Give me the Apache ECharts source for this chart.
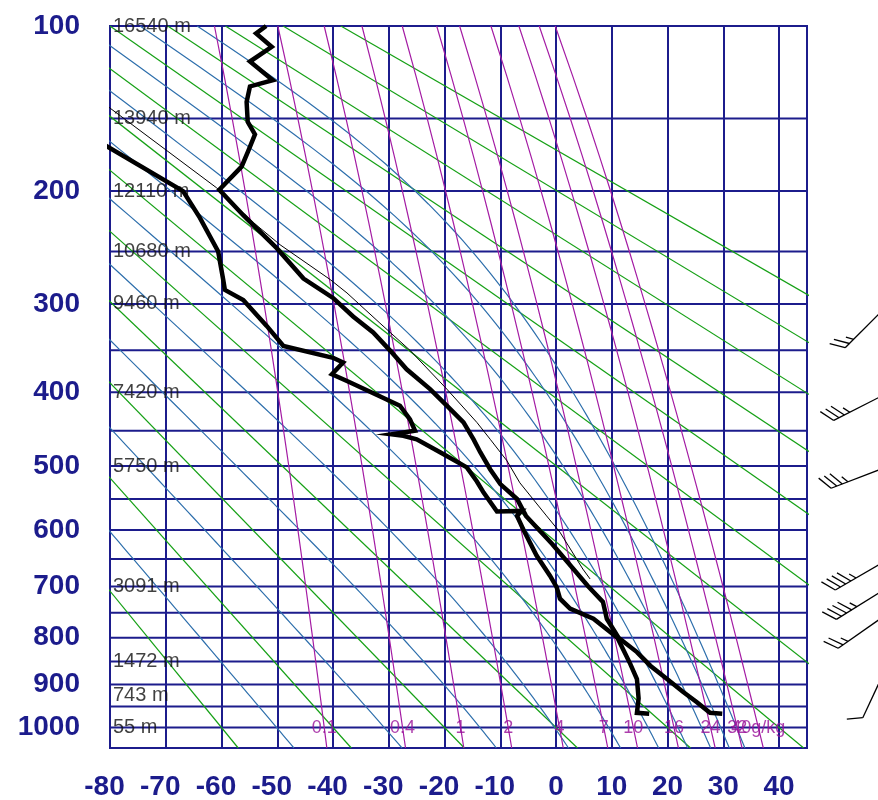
<!DOCTYPE html>
<html>
<head>
<meta charset="utf-8">
<title>Sounding</title>
<script src="https://cdn.jsdelivr.net/npm/echarts@6/dist/echarts.min.js"></script>
<style>
  html, body { margin: 0; padding: 0; background: #ffffff; }
  #chart { width: 878px; height: 800px; }
</style>
</head>
<body>
<div id="chart"></div>
<script>
// Stuve diagram: x = temperature (degC), y = p^kappa (pressure, hPa)
const KAPPA = 0.286;
const P_TOP = 100, P_BOTTOM = 1050;
const T_MIN = -80, T_MAX = 45;

// Observed temperature profile (hPa, degC), surface upward
const tempPres = [967, 965, 940, 917, 888, 859, 830, 800, 762, 729, 699, 624, 577, 550, 527, 505, 480, 462, 439, 417, 396, 372, 350, 330, 313, 294, 275, 247, 219, 199, 182, 171, 160, 152, 140, 131, 127.5, 117.5, 110, 103.5, 100];
const tempVals = [29.8, 27.6, 25.2, 22.8, 19.9, 16.9, 14.5, 11.2, 9.1, 8.4, 5.7, -0.7, -5.4, -7.0, -10.0, -11.8, -13.6, -14.8, -16.6, -19.6, -22.6, -26.8, -29.8, -32.8, -36.4, -40.0, -45.3, -50.1, -56.1, -60.4, -56.4, -55.2, -54.0, -55.3, -55.5, -54.9, -50.8, -54.9, -51.0, -53.8, -52.0];

// Observed dew point profile (hPa, degC)
const dewPres = [967, 965, 932, 888, 855, 800, 762, 742, 723, 701, 680, 644, 599, 577, 569, 570, 540, 523, 502, 480, 462, 457, 455, 450, 435, 417, 403, 386, 378, 364, 358.5, 345, 323, 296, 286, 276, 250, 221, 200, 150];
const dewVals = [16.7, 14.5, 14.8, 14.5, 13.3, 11.0, 6.7, 2.5, 0.7, 0.1, -1.1, -3.5, -5.9, -7.0, -6.2, -10.6, -13.0, -14.2, -16.0, -20.8, -25.0, -27.4, -29.5, -25.3, -26.2, -28.0, -32.2, -37.5, -40.2, -38.2, -40.0, -48.9, -51.9, -56.1, -59.4, -59.7, -60.6, -63.9, -66.9, -89.0];

// Lifted parcel path (hPa, degC)
const parcelPres = [686, 668, 604, 577, 525, 492.5, 462, 439, 396, 350, 320, 289, 276, 244, 225, 197.5, 143.6, 130];
const parcelVals = [6.1, 4.8, 0.7, -1.7, -6.5, -8.8, -11.8, -14.2, -19.6, -26.2, -31.6, -37.5, -40.5, -49.5, -54.3, -60.9, -80.0, -85.0];

// Geopotential heights of standard levels (hPa, m)
const heightPres = [100, 150, 200, 250, 300, 400, 500, 700, 850, 925, 1000];
const heightVals = [16540, 13940, 12110, 10680, 9460, 7420, 5750, 3091, 1472, 743, 55];

// Wind barbs (hPa, direction deg, speed kt)
const windPres = [300, 400, 500, 650, 700, 750, 850, 900, 925, 967];
const windDir  = [225, 243, 249, 240, 238, 235, 205, 160, 150, 140];
const windSpd  = [25, 35, 35, 45, 45, 25, 10, 10, 5, 5];

// Diagram background
const isobars = [100, 150, 200, 250, 300, 350, 400, 450, 500, 550, 600, 650, 700, 750, 800, 850, 900, 950, 1000, 1050];
const pressureLabels = [100, 200, 300, 400, 500, 600, 700, 800, 900, 1000];
const dryAdiabatsC = [-60, -40, -20, 0, 20, 40, 60, 80, 100, 120, 140, 160, 180];
const moistThetaEC = [-50, -30, -10, 10, 30, 50, 70, 90, 110, 130];
const mixingRatios = [0.1, 0.4, 1, 2, 4, 7, 10, 16, 24, 32, 40];

const NAVY = '#1c1c8c';
const GREEN = '#15a015';
const BLUE = '#2e6fac';
const PURPLE = '#a41ca4';
const FONT = '"Liberation Sans", Arial, sans-serif';

const s = p => Math.pow(p, KAPPA);

function satVap(tc) { return 6.112 * Math.exp(17.67 * tc / (tc + 243.5)); }
function thetaESat(p, tc) {
  const tk = tc + 273.15, e = satVap(tc);
  if (e > 0.5 * p) return Infinity;
  const r = 622 * e / (p - e);
  return tk * Math.pow(1000 / p, 0.2854 * (1 - 0.00028 * r)) *
         Math.exp((3.376 / tk - 0.00254) * r * (1 + 0.00081 * r));
}
function moistT(p, thetaEK) {
  let lo = -130, hi = 60;
  for (let i = 0; i < 50; i++) {
    const mid = (lo + hi) / 2;
    if (thetaESat(p, mid) > thetaEK) hi = mid; else lo = mid;
  }
  return (lo + hi) / 2;
}
function mixT(p, w) {
  const e = w * p / (622 + w);
  const l = Math.log(e / 6.112);
  return 243.5 * l / (17.67 - l);
}

const series = [];

// isobars
isobars.forEach(p => series.push({
  type: 'line', silent: true, symbol: 'none', z: 1, animation: false,
  data: [[T_MIN, s(p)], [T_MAX, s(p)]],
  lineStyle: { color: NAVY, width: 2 }
}));

// dry adiabats
dryAdiabatsC.forEach(th => {
  const thK = th + 273.15;
  series.push({
    type: 'line', silent: true, symbol: 'none', z: 2, clip: true,
    data: [P_TOP, P_BOTTOM].map(p => [thK * Math.pow(p / 1000, KAPPA) - 273.15, s(p)]),
    lineStyle: { color: GREEN, width: 1.2 }
  });
});

// saturated (pseudo) adiabats
moistThetaEC.forEach(te => {
  const teK = te + 273.15, pts = [];
  for (let p = P_TOP; p <= P_BOTTOM; p += 10) pts.push([moistT(p, teK), s(p)]);
  series.push({
    type: 'line', silent: true, symbol: 'none', z: 2, clip: true,
    data: pts, lineStyle: { color: BLUE, width: 1.2 }
  });
});

// saturation mixing ratio lines
mixingRatios.forEach(w => {
  const pts = [];
  for (let p = P_TOP; p <= P_BOTTOM; p += 25) pts.push([mixT(p, w), s(p)]);
  series.push({
    type: 'line', silent: true, symbol: 'none', z: 3, clip: true,
    data: pts, lineStyle: { color: PURPLE, width: 1.2 }
  });
});

// mixing ratio labels along 1000 hPa
series.push({
  type: 'scatter', silent: true, symbolSize: 0, z: 6,
  data: mixingRatios.map((w, i) => ({
    value: [mixT(1000, w), s(1000)],
    label: { formatter: i === mixingRatios.length - 1 ? w + 'g/kg' : String(w) }
  })),
  label: { show: true, position: 'inside', color: '#990f99', fontSize: 18, fontFamily: FONT }
});

// standard level heights
series.push({
  type: 'scatter', silent: true, symbolSize: 0, z: 6,
  data: heightPres.map((p, i) => ({ value: [T_MIN, s(p)], label: { formatter: heightVals[i] + ' m' } })),
  label: { show: true, position: 'right', distance: 3, color: '#111111', fontSize: 20, fontFamily: FONT }
});

// parcel path
series.push({
  type: 'line', silent: true, symbol: 'none', z: 7, clip: true,
  data: parcelPres.map((p, i) => [parcelVals[i], s(p)]),
  lineStyle: { color: '#000', width: 1 }
});

// dew point and temperature
series.push({
  type: 'line', silent: true, symbol: 'none', z: 8, clip: true,
  data: dewPres.map((p, i) => [dewVals[i], s(p)]),
  lineStyle: { color: '#000', width: 4.5, join: 'miter' }
});
series.push({
  type: 'line', silent: true, symbol: 'none', z: 9, clip: true,
  data: tempPres.map((p, i) => [tempVals[i], s(p)]),
  lineStyle: { color: '#000', width: 4.5, join: 'miter' }
});

// wind barbs in the side panel
const BARB_LEN = 62;
function renderBarb(params, api) {
  const c = api.coord([api.value(0), api.value(1)]);
  const d = api.value(2) * Math.PI / 180, spd = api.value(3);
  const ux = Math.sin(d), uy = -Math.cos(d);
  const px = -uy, py = ux;
  const fx = px * 0.87 + ux * 0.5, fy = py * 0.87 + uy * 0.5;
  const tail = [c[0] + ux * BARB_LEN, c[1] + uy * BARB_LEN];
  const st = { stroke: '#000', lineWidth: 1.3 };
  const kids = [{ type: 'line', shape: { x1: c[0], y1: c[1], x2: tail[0], y2: tail[1] }, style: st }];
  let rest = Math.round(spd / 5) * 5, pos = 0;
  const step = 6, fl = 16;
  while (rest >= 50) {
    const b0 = [tail[0] - ux * pos, tail[1] - uy * pos];
    const b1 = [tail[0] - ux * (pos + step), tail[1] - uy * (pos + step)];
    kids.push({ type: 'polygon', shape: { points: [b0, [b0[0] + px * fl, b0[1] + py * fl], b1] }, style: { fill: '#000' } });
    rest -= 50; pos += step + 2;
  }
  while (rest >= 10) {
    const b = [tail[0] - ux * pos, tail[1] - uy * pos];
    kids.push({ type: 'line', shape: { x1: b[0], y1: b[1], x2: b[0] + fx * fl, y2: b[1] + fy * fl }, style: st });
    rest -= 10; pos += step;
  }
  if (rest >= 5) {
    if (pos === 0) pos = step;
    const b = [tail[0] - ux * pos, tail[1] - uy * pos];
    kids.push({ type: 'line', shape: { x1: b[0], y1: b[1], x2: b[0] + fx * fl / 2, y2: b[1] + fy * fl / 2 }, style: st });
  }
  return { type: 'group', children: kids };
}
series.push({
  type: 'custom', silent: true, xAxisIndex: 1, yAxisIndex: 1, z: 10,
  renderItem: renderBarb,
  data: windPres.map((p, i) => [0.37, s(p), windDir[i], windSpd[i]])
});

const option = {
  animation: false,
  backgroundColor: '#ffffff',
  grid: [
    { left: 110, top: 26, width: 697, height: 722, show: true, borderColor: NAVY, borderWidth: 2,
      backgroundColor: 'transparent', containLabel: false, outerBoundsMode: 'none' },
    { left: 815, top: 26, width: 200, height: 722, show: false, containLabel: false, outerBoundsMode: 'none' }
  ],
  xAxis: [
    {
      type: 'value', gridIndex: 0, min: T_MIN, max: T_MAX, interval: 10,
      axisLine: { show: false }, axisTick: { show: false },
      splitLine: { show: true, lineStyle: { color: NAVY, width: 2 } },
      axisLabel: {
        margin: 25,
        formatter: v => (v > 40 ? '' : (v < 0 ? '{n|' + v + '}' : '{q|' + v + '}')),
        rich: {
          n: { fontSize: 28, fontWeight: 'bold', color: NAVY, fontFamily: FONT, padding: [0, 11, 0, 0] },
          q: { fontSize: 28, fontWeight: 'bold', color: NAVY, fontFamily: FONT }
        }
      }
    },
    { type: 'value', gridIndex: 1, min: 0, max: 1, show: false }
  ],
  yAxis: [
    {
      type: 'value', gridIndex: 0, inverse: true, min: s(P_TOP), max: s(P_BOTTOM),
      axisLine: { show: false }, axisTick: { show: false }, splitLine: { show: false },
      axisLabel: {
        customValues: pressureLabels.map(s),
        formatter: v => String(Math.round(Math.pow(v, 1 / KAPPA) / 10) * 10),
        margin: 30, fontSize: 28, fontWeight: 'bold', color: NAVY, fontFamily: FONT
      }
    },
    { type: 'value', gridIndex: 1, inverse: true, min: s(P_TOP), max: s(P_BOTTOM), show: false }
  ],
  series: series
};

const chart = echarts.init(document.getElementById('chart'));
chart.setOption(option);
</script>
</body>
</html>
